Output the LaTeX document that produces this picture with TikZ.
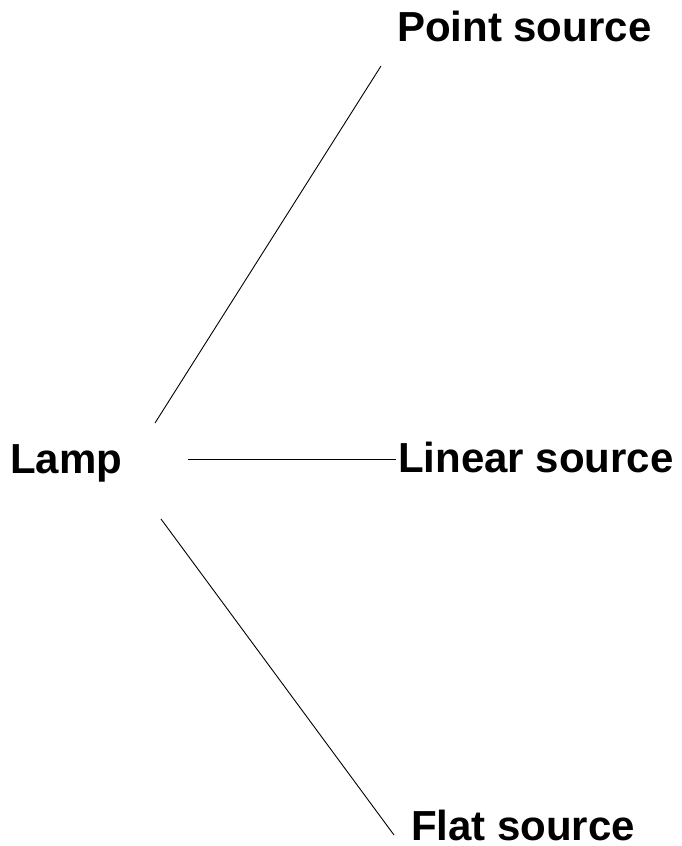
\documentclass[tikz,border=0pt]{standalone}
\usepackage{fontspec}
\setmainfont{Liberation Sans}
\begin{document}
\begin{tikzpicture}[x=1pt,y=-1pt,
  label/.style={anchor=base west,inner sep=0pt,outer sep=0pt,font=\fontsize{42}{48}\selectfont\bfseries},
  conn/.style={line width=0.9pt,black}]
\useasboundingbox (0,0) rectangle (682,846);
\node[label] (lamp) at (10,473) {Lamp};
\node[label] (point) at (397,41) {Point source};
\node[label] (linear) at (398,472) {Linear source};
\node[label] (flat) at (411,840) {Flat source};
\coordinate (a1) at (155,423);
\coordinate (b1) at (381,66);
\coordinate (a2) at (188,459);
\coordinate (b2) at (396,459);
\coordinate (a3) at (161,519);
\coordinate (b3) at (394,835);
\draw[conn] (a1) -- (b1);
\draw[conn] (a2) -- (b2);
\draw[conn] (a3) -- (b3);
\end{tikzpicture}
\end{document}
